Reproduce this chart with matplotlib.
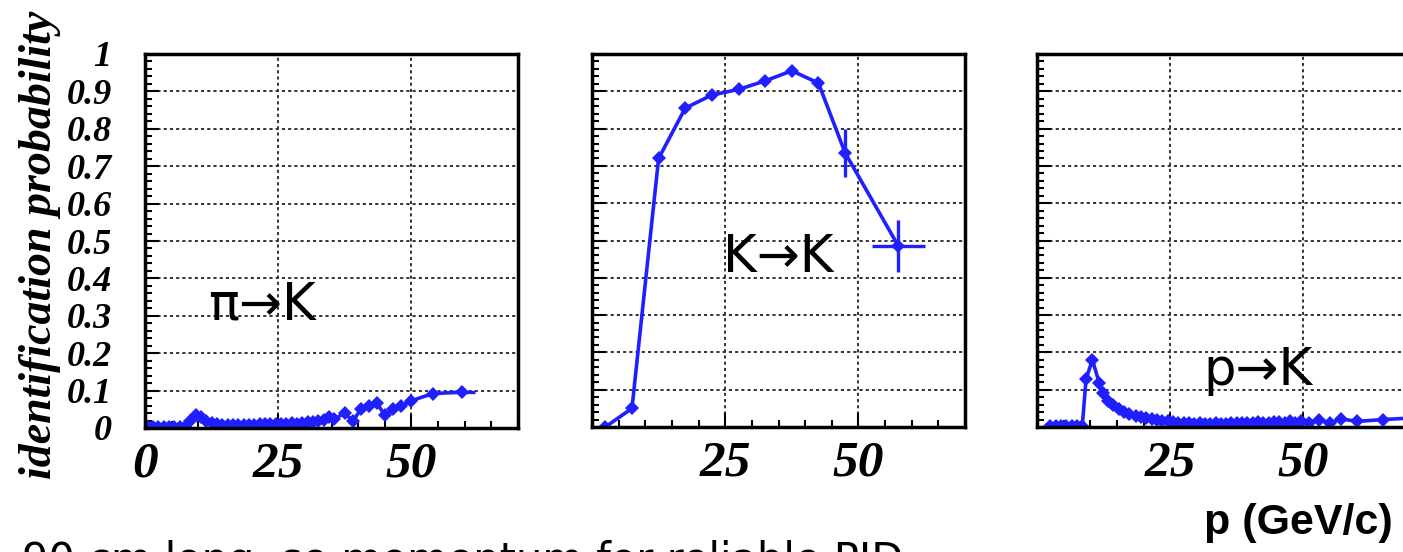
import matplotlib
matplotlib.use("Agg")
import matplotlib.pyplot as plt
from matplotlib.ticker import FixedLocator, MultipleLocator

BLUE = "#1f1fff"

# pi -> K misidentification probability vs momentum (GeV/c)
pi_p = [0.5, 1.5, 2.5, 3.5, 4.5, 5.5, 6.5, 7.5, 8.5, 9.5, 10.5, 11.5, 12.5,
        13.5, 14.5, 15.5, 16.5, 17.5, 18.5, 19.5, 20.5, 21.5, 22.5, 23.5,
        24.5, 25.5, 26.5, 27.5, 28.5, 29.5, 30.5, 31.5, 32.5, 33.5, 34.5,
        35.5, 37.5, 39, 40.5, 42, 43.5, 45, 46.5, 48, 50, 54, 59.5]
pi_prob = [0.003, 0.003, 0.003, 0.003, 0.003, 0.003, 0.003, 0.004, 0.018,
           0.036, 0.03, 0.02, 0.014, 0.011, 0.009, 0.008, 0.008, 0.007,
           0.008, 0.008, 0.009, 0.01, 0.01, 0.011, 0.01, 0.012, 0.011, 0.013,
           0.012, 0.014, 0.015, 0.017, 0.02, 0.022, 0.03, 0.024, 0.04, 0.018,
           0.05, 0.06, 0.066, 0.035, 0.05, 0.058, 0.073, 0.092, 0.096]
pi_perr = [0] * 46 + [2.5]

# K -> K identification probability
k_p = [2.5, 7.5, 12.5, 17.5, 22.5, 27.5, 32.5, 37.5, 42.5, 47.5, 57.5]
k_prob = [0.0, 0.05, 0.72, 0.855, 0.89, 0.905, 0.928, 0.955, 0.922, 0.735, 0.485]
k_err = [0, 0, 0, 0, 0, 0, 0, 0, 0, 0.065, 0.07]
k_perr = [0] * 10 + [5]

# p -> K misidentification probability
p_p = [2.5, 3.5, 4.5, 5.5, 6.5, 7.5, 8.5, 9.2, 10.4, 11.7, 12.4, 13.3, 14.2,
       15.3, 16.3, 17.3, 18.5, 19.5, 20.5, 21.5, 22.5, 23.5, 24.5, 25.5,
       26.5, 27.5, 28.5, 29.5, 30.5, 31.5, 32.5, 33.5, 34.5, 35.5, 36.5,
       37.5, 38.5, 39.5, 40.5, 41.5, 42.5, 43.5, 44.5, 45.5, 46.5, 47.5,
       48.5, 49.5, 51, 53, 55, 57, 60, 65, 70]
p_prob = [0.003, 0.003, 0.003, 0.003, 0.003, 0.003, 0.003, 0.128, 0.18,
          0.117, 0.09, 0.07, 0.058, 0.048, 0.04, 0.034, 0.03, 0.026, 0.023,
          0.021, 0.019, 0.017, 0.015, 0.014, 0.012, 0.011, 0.01, 0.009, 0.01,
          0.008, 0.009, 0.01, 0.008, 0.009, 0.011, 0.01, 0.012, 0.01, 0.011,
          0.013, 0.012, 0.01, 0.014, 0.013, 0.012, 0.015, 0.011, 0.016,
          0.012, 0.02, 0.01, 0.022, 0.015, 0.02, 0.024]

Y_TICKS = [0, 0.1, 0.2, 0.3, 0.4, 0.5, 0.6, 0.7, 0.8, 0.9, 1.0]
Y_LABELS = ["0", "0.1", "0.2", "0.3", "0.4", "0.5", "0.6", "0.7", "0.8", "0.9", "1"]
X_TICKS = [0, 25, 50]

W, H = 1403, 552
SERIF = {"family": "Liberation Serif", "weight": "bold", "style": "italic"}


def px_axes(left, top, width, height):
    return [left / W, (H - top - height) / H, width / W, height / H]


def style_axes(ax, xlabels, show_y):
    ax.set_xlim(0, 70)
    ax.set_ylim(0, 1)
    ax.xaxis.set_major_locator(FixedLocator(X_TICKS))
    ax.xaxis.set_minor_locator(MultipleLocator(5))
    ax.yaxis.set_major_locator(FixedLocator(Y_TICKS))
    ax.yaxis.set_minor_locator(MultipleLocator(0.02))
    ax.tick_params(which="both", direction="in", top=False, right=False,
                   width=1.5, color="black")
    ax.tick_params(which="major", length=10)
    ax.tick_params(which="minor", length=5)
    ax.tick_params(axis="x", pad=10)
    ax.tick_params(axis="y", pad=24)
    ax.grid(True, which="major", color="#333333", linestyle=(0, (1.6, 1.6)),
            linewidth=1.4)
    for s in ax.spines.values():
        s.set_linewidth(2.5)
    ax.set_xticklabels(xlabels, fontdict=dict(SERIF, size=37))
    if show_y:
        ax.set_yticklabels(Y_LABELS, fontdict=dict(SERIF, size=26))
    else:
        ax.set_yticklabels([])


fig = plt.figure(figsize=(W / 100, H / 100), dpi=100)
fig.patch.set_facecolor("white")

ax1 = fig.add_axes(px_axes(145, 54, 373, 374))
ax2 = fig.add_axes(px_axes(592, 54, 373, 373))
ax3 = fig.add_axes(px_axes(1037, 54, 373, 373))

style_axes(ax1, ["0", "25", "50"], True)
style_axes(ax2, ["", "25", "50"], False)
style_axes(ax3, ["", "25", "50"], False)

ax1.set_ylabel("identification probability", fontdict=dict(SERIF, size=33))
ax1.yaxis.set_label_coords(-0.225, 0.49)

line_kw = dict(color=BLUE, linewidth=2.6, marker="D", markersize=7.5,
               markeredgewidth=0)
err_kw = dict(fmt="none", ecolor=BLUE, elinewidth=2.4, capsize=0)

ax1.plot(pi_p, pi_prob, **line_kw)
ax1.errorbar(pi_p, pi_prob, xerr=pi_perr, **err_kw)

ax2.plot(k_p, k_prob, **line_kw)
ax2.errorbar(k_p, k_prob, xerr=k_perr, yerr=k_err, **err_kw)

ax3.plot(p_p, p_prob, **line_kw)

label_kw = dict(family="DejaVu Sans", size=37, va="baseline", ha="left")
ax1.text(0.169, 0.289, "π→K", transform=ax1.transAxes, **label_kw)
ax2.text(0.351, 0.416, "K→K", transform=ax2.transAxes, **label_kw)
ax3.text(0.445, 0.113, "p→K", transform=ax3.transAxes, **label_kw)

fig.text(0.993, (H - 534) / H, "p (GeV/c)", family="Liberation Sans",
         weight="bold", size=31, ha="right", va="baseline")

# caption line below the panels, partly running off the bottom edge
fig.text(22 / W, (H - 540) / H, "90 cm long, so momentum for reliable PID",
         family="DejaVu Sans", size=30, ha="left", va="top")

fig.savefig("out.png", dpi=100)
